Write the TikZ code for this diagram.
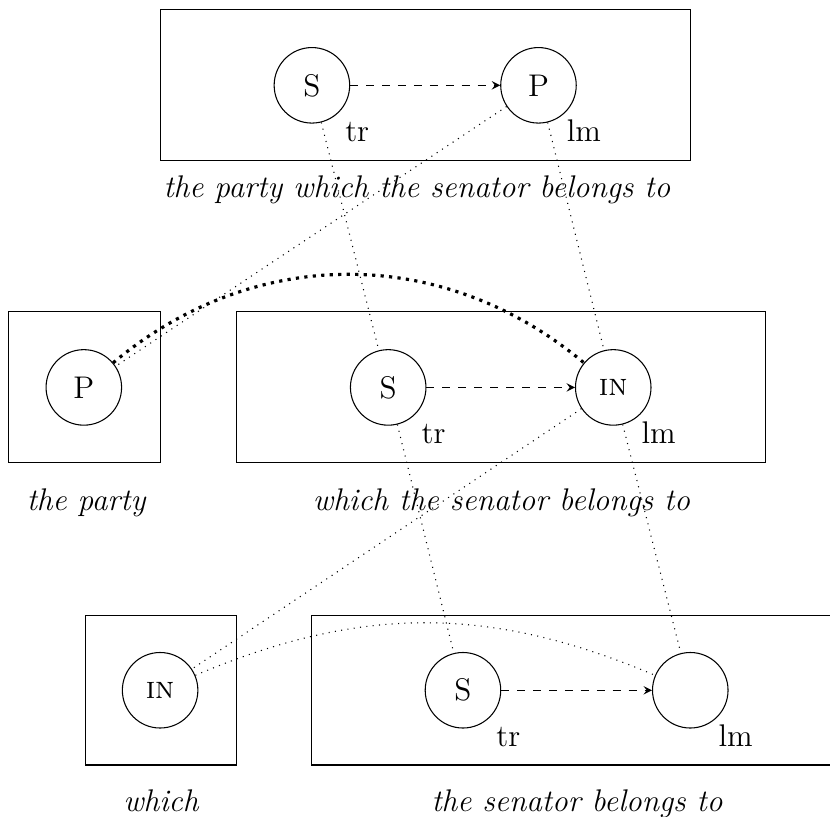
\documentclass[tikz,border=0pt]{standalone}
\tikzset{
  cg/frame/.style={black, line width=0.4pt},
  cg/thing/.style={draw, circle, minimum size=1cm, inner sep=0pt},
  cg/prof/.style={dashed, -stealth},
  cg/corr/.style={dotted},
  cg/role/.style={anchor=base, xshift=0.6cm, yshift=-0.74cm},
  cg/gloss/.style={font=\itshape, anchor=base}
}

\begin{document}
\fontsize{11.8}{14}\selectfont
\begin{tikzpicture}
  \useasboundingbox (0,0) rectangle (10.99,10.81);
  \clip (0,0) rectangle (10.99,10.81);
  % composite structure
  \draw[cg/frame] (2.12,8.69) rectangle (9.14,10.68);
  \node[cg/thing] (s1) at (4.13,9.68) {S};
  \node[cg/thing] (p1) at (7.13,9.68) {P};
  \draw[cg/prof] (s1) -- (p1);
  \node[cg/role] (tr1) at (s1) {tr};
  \node[cg/role] (lm1) at (p1) {lm};
  \node[cg/gloss] (g1) at (5.52,8.19) {the party which the senator belongs to};
  % second level
  \draw[cg/frame] (0.11,4.68) rectangle (2.12,6.68);
  \node[cg/thing] (p2) at (1.11,5.68) {P};
  \node[cg/gloss] (g2a) at (1.14,4.05) {the party};
  \draw[cg/frame] (3.13,4.68) rectangle (10.13,6.68);
  \node[cg/thing] (s2) at (5.14,5.68) {S};
  \node[cg/thing] (in2) at (8.12,5.68) {\textsc{in}};
  \draw[cg/prof] (s2) -- (in2);
  \node[cg/role] (tr2) at (s2) {tr};
  \node[cg/role] (lm2) at (in2) {lm};
  \node[cg/gloss] (g2b) at (6.64,4.05) {which the senator belongs to};
  % third level
  \draw[cg/frame] (1.13,0.68) rectangle (3.13,2.66);
  \node[cg/thing] (in3) at (2.12,1.67) {\textsc{in}};
  \node[cg/gloss] (g3a) at (2.13,0.06) {which};
  \draw[cg/frame] (4.13,0.68) rectangle (11.13,2.66);
  \node[cg/thing] (s3) at (6.13,1.67) {S};
  \node[cg/thing] (x3) at (9.14,1.67) {};
  \draw[cg/prof] (s3) -- (x3);
  \node[cg/role] (tr3) at (s3) {tr};
  \node[cg/role] (lm3) at (x3) {lm};
  \node[cg/gloss] (g3b) at (7.64,0.06) {the senator belongs to};
  % correspondences
  \draw[cg/corr] (s1) -- (s2);
  \draw[cg/corr] (p1) -- (p2);
  \draw[cg/corr] (p1) -- (in2);
  \draw[cg/corr] (s2) -- (s3);
  \draw[cg/corr] (in2) -- (in3);
  \draw[cg/corr] (in2) -- (x3);
  \draw[cg/corr] (in3) to[bend left=23] (x3);
  \draw[cg/corr, very thick] (p2) to[bend left=40] (in2);
\end{tikzpicture}
\end{document}
